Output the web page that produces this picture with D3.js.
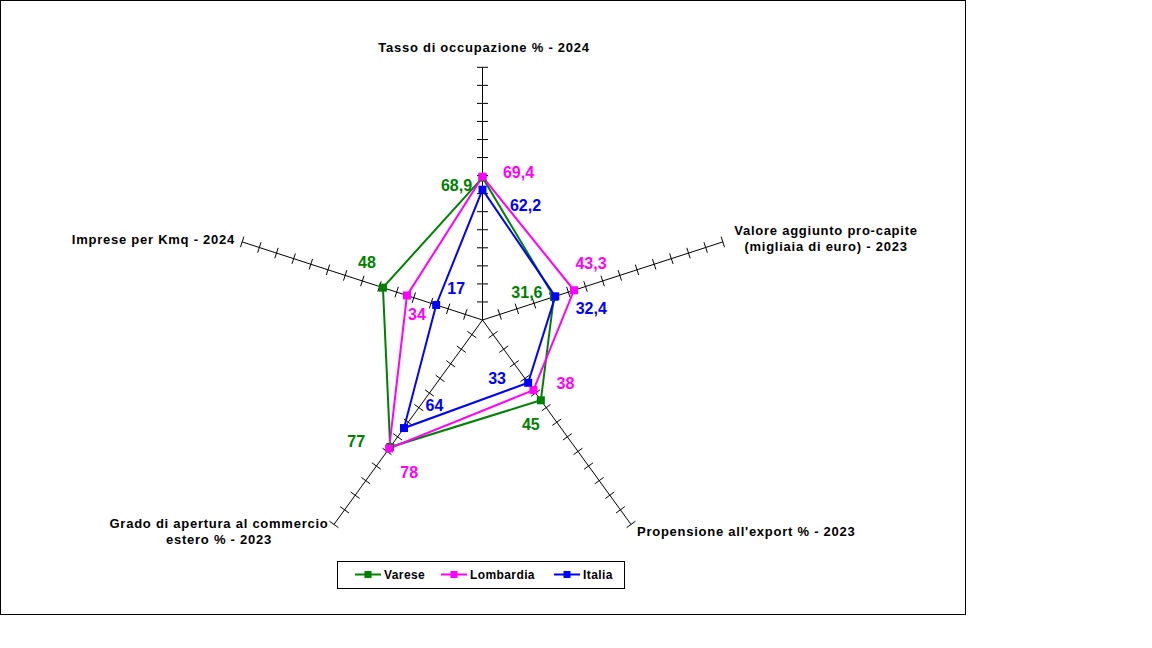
<!DOCTYPE html>
<html>
<head>
<meta charset="utf-8">
<script src="https://cdn.jsdelivr.net/npm/d3@7/dist/d3.min.js"></script>
<style>
  html, body { margin: 0; padding: 0; background: #ffffff; }
  svg { display: block; }
  text { font-family: Arial, "Liberation Sans", sans-serif; font-weight: bold; }
</style>
</head>
<body>
<svg id="chart" width="1152" height="648"></svg>
<script>
// ---- Data ----
const categories = [
  ["Tasso di occupazione % - 2024"],
  ["Valore aggiunto pro-capite", "(migliaia di euro) - 2023"],
  ["Propensione all'export % - 2023"],
  ["Grado di apertura al commercio", "estero % - 2023"],
  ["Imprese per Kmq - 2024"]
];
const seriesNames = ["Varese", "Lombardia", "Italia"];
const vareseValues    = [68.9, 31.6, 45, 77, 48];
const lombardiaValues = [69.4, 43.3, 38, 78, 34];
const italiaValues    = [62.2, 32.4, 33, 64, 17];
const axisTicks = [0, 10, 20, 30, 40, 50, 60, 70, 80, 90, 100, 110, 120, 130];
const axisMin = -10, axisMax = 130;

// ---- Styles / layout ----
const colors = ["#008000", "#ff00ff", "#0000ff"];
const cx = 482.5, cy = 320, radius = 252.7;
// label offsets (pixels) per series per axis, relative to the point
const labelOffsets = [
  [[-26, 7.5], [-27, -5], [-10, 24], [-34, -6], [-16, -25]],
  [[36, -4.5], [17, -27], [32, -7], [20, 24], [10, 18.5]],
  [[43, 16], [36, 12], [-31, -4.5], [30.5, -22.5], [20, -17]]
];
const fmt = v => String(v).replace(".", ",");

const svg = d3.select("#chart");
svg.append("rect").attr("x", 0.5).attr("y", 0.5).attr("width", 965).attr("height", 614)
  .attr("fill", "#fff").attr("stroke", "#000").attr("stroke-width", 1);

const r = d3.scaleLinear().domain([axisMin, axisMax]).range([0, radius]);
const angle = i => (-90 + 72 * i) * Math.PI / 180;
const pt = (i, v) => [cx + r(v) * Math.cos(angle(i)), cy + r(v) * Math.sin(angle(i))];

// axes
const axesG = svg.append("g");
categories.forEach((c, i) => {
  const a = angle(i);
  const [x2, y2] = pt(i, axisMax);
  axesG.append("line").attr("x1", cx).attr("y1", cy).attr("x2", x2).attr("y2", y2)
    .attr("stroke", "#000").attr("stroke-width", 1);
  const px = -Math.sin(a), py = Math.cos(a);
  axisTicks.forEach(t => {
    const [x, y] = pt(i, t);
    const L = 5.5;
    axesG.append("line").attr("x1", x - px * L).attr("y1", y - py * L)
      .attr("x2", x + px * L).attr("y2", y + py * L)
      .attr("stroke", "#000").attr("stroke-width", 1);
  });
});

// axis labels
const labelPos = [
  {x: 484, y: 52, anchor: "middle"},
  {x: 826, y: 235, anchor: "middle"},
  {x: 637, y: 536, anchor: "start"},
  {x: 219, y: 528, anchor: "middle"},
  {x: 235, y: 244, anchor: "end"}
];
categories.forEach((lines, i) => {
  const t = svg.append("text").attr("x", labelPos[i].x).attr("y", labelPos[i].y)
    .attr("text-anchor", labelPos[i].anchor).attr("font-size", 13)
    .attr("letter-spacing", 0.75).attr("fill", "#000");
  lines.forEach((l, k) => t.append("tspan").attr("x", labelPos[i].x).attr("dy", k === 0 ? 0 : 15.5).text(l));
});

// series
const allSeries = [vareseValues, lombardiaValues, italiaValues];
const line = d3.line().x(d => d[0]).y(d => d[1]).curve(d3.curveLinearClosed);
allSeries.forEach((vals, s) => {
  const pts = vals.map((v, i) => pt(i, v));
  svg.append("path").attr("d", line(pts)).attr("fill", "none")
    .attr("stroke", colors[s]).attr("stroke-width", 2);
});
allSeries.forEach((vals, s) => {
  vals.forEach((v, i) => {
    const [x, y] = pt(i, v);
    svg.append("rect").attr("x", x - 4).attr("y", y - 4).attr("width", 8).attr("height", 8)
      .attr("fill", colors[s]);
  });
});
allSeries.forEach((vals, s) => {
  vals.forEach((v, i) => {
    const [x, y] = pt(i, v);
    svg.append("text").attr("x", x + labelOffsets[s][i][0]).attr("y", y + labelOffsets[s][i][1])
      .attr("dy", "0.36em").attr("text-anchor", "middle").attr("font-size", 16)
      .attr("fill", colors[s]).text(fmt(v));
  });
});

// legend
const lg = svg.append("g");
lg.append("rect").attr("x", 337.5).attr("y", 561.5).attr("width", 287).attr("height", 27)
  .attr("fill", "#fff").attr("stroke", "#000").attr("stroke-width", 1);
const legendX = [355, 441, 554];
seriesNames.forEach((n, s) => {
  const x0 = legendX[s], ly = 574.5;
  lg.append("line").attr("x1", x0).attr("x2", x0 + 26).attr("y1", ly).attr("y2", ly)
    .attr("stroke", colors[s]).attr("stroke-width", 2);
  lg.append("rect").attr("x", x0 + 13 - 3.5).attr("y", ly - 3.5).attr("width", 7).attr("height", 7)
    .attr("fill", colors[s]);
  lg.append("text").attr("x", x0 + 29).attr("y", ly).attr("dy", "0.36em")
    .attr("font-size", 12).attr("letter-spacing", 0.4).attr("fill", "#000").text(n);
});
</script>
</body>
</html>
